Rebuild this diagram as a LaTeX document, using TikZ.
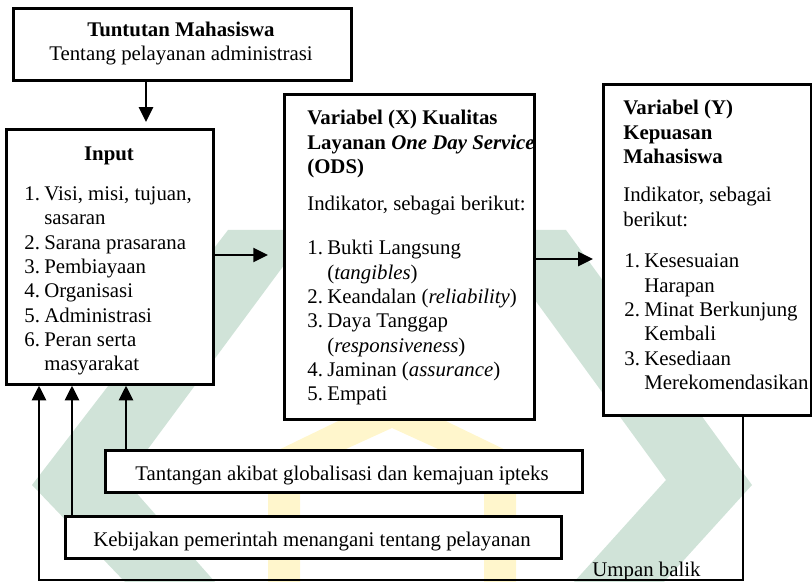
\documentclass[tikz,border=0pt]{standalone}
\usepackage{fontspec}
\setmainfont{Liberation Serif}
\usetikzlibrary{arrows.meta}
\definecolor{wmgreen}{RGB}{208,227,216}
\definecolor{wmyellow}{RGB}{255,246,204}

\begin{document}
\begin{tikzpicture}[x=0.576pt, y=-0.576pt]
	\newcommand\pxu{0.576pt}
	\newcommand\numw{11.5pt}
	\newcommand\numbox[1]{\makebox[\numw][l]{#1}}
	\newcommand\numskip{\hspace*{\numw}}
	\tikzset{
		box/.style = {draw, line width=1.5pt, fill=white, inner sep=0pt, anchor=north west},
		txt/.style = {inner sep=0pt, font=\fontsize{12}{14}\selectfont},
		arr/.style = {line width=1.5pt, -{Triangle[length=8.5pt, width=8pt]}},
	}
	\useasboundingbox (0,0) rectangle (812,582);

	% watermark in the background
	\fill[wmgreen] (228,230) -- (310,230) -- (125,480) -- (215,582) -- (125,582) -- (32,485) -- cycle;
	\fill[wmgreen] (566,230) -- (484,230) -- (666,480) -- (574,582) -- (664,582) -- (752,485) -- cycle;
	\fill[wmyellow, even odd rule] (268,582) -- (268,455) -- (392,395) -- (516,455) -- (516,582) -- cycle
		(300,582) -- (300,470) -- (392,428) -- (484,470) -- (484,582) -- cycle;

	% boxes
	\node[box, minimum width=338*\pxu, minimum height=72*\pxu] (demand) at (12,7) {};
	\node[box, minimum width=207*\pxu, minimum height=255*\pxu] (input) at (5,128) {};
	\node[box, minimum width=250*\pxu, minimum height=325*\pxu] (varx) at (283,93) {};
	\node[box, minimum width=208*\pxu, minimum height=331*\pxu] (vary) at (602,83) {};
	\node[box, minimum width=477*\pxu, minimum height=42*\pxu] (challenge) at (104,449) {};
	\node[box, minimum width=496*\pxu, minimum height=42*\pxu] (policy) at (64,515) {};

	% texts
	\node[txt, anchor=base] (demandtitle) at (181,37) {\textbf{Tuntutan Mahasiswa}};
	\node[txt, anchor=base] (demandtext) at (181,61) {Tentang pelayanan administrasi};
	\node[txt, anchor=base] (inputtitle) at (109,161) {\textbf{Input}};
	\begin{scope}
		\clip ([yshift=9*\pxu]input.south west) rectangle (input.north east);
		\node[txt, anchor=base west] (inputlist) at (24,200.5) {\begin{minipage}[t]{105pt}
			\numbox{1.}Visi, misi, tujuan,\\
			\numskip sasaran\\
			\numbox{2.}Sarana prasarana\\
			\numbox{3.}Pembiayaan\\
			\numbox{4.}Organisasi\\
			\numbox{5.}Administrasi\\
			\numbox{6.}Peran serta\\
			\numskip masyarakat
		\end{minipage}};
	\end{scope}
	\begin{scope}
		\clip (varx.south west) rectangle (varx.north east);
		\node[txt, anchor=base west] (varxtitle) at (307,125) {\begin{minipage}[t]{140pt}\bfseries
			Variabel (X) Kualitas\\
			Layanan \textit{One Day Service}\\
			(ODS)
		\end{minipage}};
		\node[txt, anchor=base west] (varxind) at (307,211) {Indikator, sebagai berikut:};
		\node[txt, anchor=base west] (varxlist) at (307,255) {\begin{minipage}[t]{125pt}
			\numbox{1.}Bukti Langsung\\
			\numskip(\textit{tangibles})\\
			\numbox{2.}Keandalan (\textit{reliability})\\
			\numbox{3.}Daya Tanggap\\
			\numskip(\textit{responsiveness})\\
			\numbox{4.}Jaminan (\textit{assurance})\\
			\numbox{5.}Empati
		\end{minipage}};
	\end{scope}
	\begin{scope}
		\clip (vary.south west) rectangle (vary.north east);
		\node[txt, anchor=base west] (varytitle) at (623,115) {\begin{minipage}[t]{105pt}\bfseries
			Variabel (Y)\\
			Kepuasan\\
			Mahasiswa
		\end{minipage}};
		\node[txt, anchor=base west] (varyind) at (623,202) {\begin{minipage}[t]{105pt}
			Indikator, sebagai\\
			berikut:
		\end{minipage}};
		\node[txt, anchor=base west] (varylist) at (624,268) {\begin{minipage}[t]{120pt}
			\numbox{1.}Kesesuaian\\
			\numskip Harapan\\
			\numbox{2.}Minat Berkunjung\\
			\numskip Kembali\\
			\numbox{3.}Kesediaan\\
			\numskip\mbox{Merekomendasikan}
		\end{minipage}};
	\end{scope}
	\begin{scope}
		\clip ([yshift=9*\pxu]challenge.south west) rectangle (challenge.north east);
		\node[txt, anchor=base] (challengetext) at (342,480) {Tantangan akibat globalisasi dan kemajuan ipteks};
	\end{scope}
	\begin{scope}
		\clip ([yshift=9*\pxu]policy.south west) rectangle (policy.north east);
		\node[txt, anchor=base] (policytext) at (312,546) {Kebijakan pemerintah menangani tentang pelayanan};
	\end{scope}
	\node[txt, anchor=base west] (feedback) at (592,576) {Umpan balik};

	% helper points for the connectors
	\coordinate (downx) at (146,0);
	\coordinate (rowa) at (0,255);
	\coordinate (rowb) at (0,259);
	\coordinate (challengex) at (126,0);
	\coordinate (policyx) at (72,0);
	\coordinate (backleft) at (39,580);
	\coordinate (backright) at (743,580);

	% arrows
	\draw[arr, shorten >=3.5pt] (demand.south -| downx) -- (input.north -| downx);
	\draw[arr, shorten >=8.6pt] (input.east |- rowa) -- (varx.west |- rowa);
	\draw[arr, shorten >=5.2pt] (varx.east |- rowb) -- (vary.west |- rowb);
	\draw[arr] (challenge.north -| challengex) -- (challengex |- input.south);
	\draw[arr] (policy.north -| policyx) -- (policyx |- input.south);
	\draw[arr] (vary.south -| backright) -- (backright) -- (backleft) -- (backleft |- input.south);
\end{tikzpicture}
\end{document}
